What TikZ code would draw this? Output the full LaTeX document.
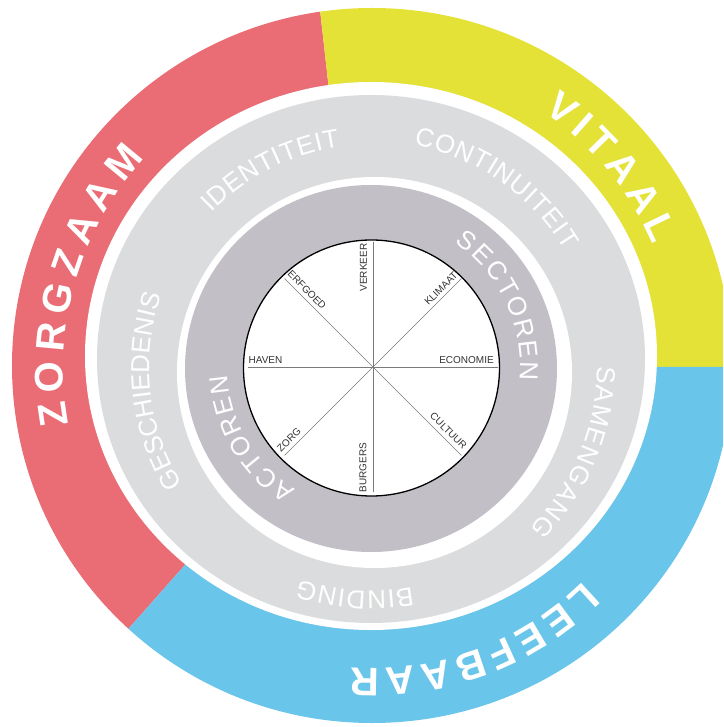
\documentclass[tikz,border=0pt]{standalone}
\usepackage{fontspec}
\setmainfont{Liberation Sans}
\usetikzlibrary{decorations.text,calc}
\definecolor{cred}{HTML}{EA6C74}
\definecolor{cyellow}{HTML}{E4E236}
\definecolor{cblue}{HTML}{6AC5EA}
\definecolor{clight}{HTML}{DBDCDD}
\definecolor{cdark}{HTML}{C3BFC7}
\definecolor{spokec}{HTML}{7A7A7A}
\definecolor{labelc}{HTML}{333333}
\newcommand\outerf{\fontsize{40}{40}\selectfont\bfseries\color{white}}
\newcommand\midf{\fontsize{26}{26}\selectfont\color{white}}
\newcommand\innerf{\fontsize{26}{26}\selectfont\color{white}}
% #1 font, #2 text, #3 baseline radius, #4 start angle, #5 end angle
\newcommand\ringtext[5]{%
  \path[decorate, decoration={text along path, text align=fit to path, text={|#1|#2}}]
    (#4:#3) arc[start angle=#4, end angle=#5, radius=#3];}
\tikzset{
  spokelabel/.style={font=\fontsize{10}{10}\selectfont, text=labelc, inner sep=0pt},
  spokeline/.style={draw=spokec, line width=0.6pt}
}
\begin{document}
\begin{tikzpicture}[x=1pt,y=1pt]
\useasboundingbox (-371,-360) rectangle (352,367);
\clip (-371,-360) rectangle (352,367);
% outer coloured ring
\begin{scope}
  \clip (1,1.5) ellipse[x radius=360, y radius=357.5];
  \fill[cred] (-11,0) -- (-53.2,377) -- (-420,377) -- (-420,-441) -- (-401,-441) -- cycle;
  \fill[cyellow] (-11,0) -- (-53.2,377) -- (420,377) -- (420,0) -- cycle;
  \fill[cblue] (-11,0) -- (420,0) -- (420,-460) -- (-401,-460) -- (-401,-441) -- cycle;
\end{scope}
\fill[white] (0,11) ellipse[x radius=286, y radius=274];
\fill[clight] (0,8) ellipse[x radius=274, y radius=264];
\fill[white] (3.5,-5.5) ellipse[x radius=197.5, y radius=195.5];
\fill[cdark] (0,-1.5) ellipse[x radius=186, y radius=183.5];
\node[circle, draw=black, line width=1.3pt, fill=white, minimum size=256pt, inner sep=0pt] (disc) at (0.5,-1) {};
% spokes
\coordinate (hub) at (2,0);
\foreach \a [count=\i] in {0,45,...,315}{
  \coordinate (s\i) at ($(hub)+(\a:125)$);
  \draw[spokeline] (hub) -- (s\i);
}
% spoke labels
\node[spokelabel, rotate=90] (verkeer) at (-7.5,99.5) {VERKEER};
\node[spokelabel, rotate=90] (burgers) at (-8,-100.5) {BURGERS};
\node[spokelabel] (haven) at (-105.5,7) {HAVEN};
\node[spokelabel] (economie) at (95.5,7) {ECONOMIE};
\node[spokelabel, rotate=-45] (erfgoed) at (-64,77) {ERFGOED};
\node[spokelabel, rotate=45] (klimaat) at (70,78.5) {KLIMAAT};
\node[spokelabel, rotate=45] (zorg) at (-82,-73) {ZORG};
\node[spokelabel, rotate=-45] (cultuur) at (77.5,-64) {CULTUUR};
% ring texts
\ringtext{\outerf}{ZORGZAAM}{307.7}{190.7}{137.3}
\ringtext{\outerf}{VITAAL}{307.7}{55.9}{23.5}
\ringtext{\outerf}{LEEFBAAR}{301.7}{-45.3}{-93.8}
\ringtext{\midf}{IDENTITEIT}{222}{136.0}{98.0}
\ringtext{\midf}{CONTINUITEIT}{226}{79.1}{31.0}
\ringtext{\midf}{GESCHIEDENIS}{221.5}{211.9}{162.1}
\ringtext{\midf}{SAMENGANG}{226}{0.2}{-45.4}
\ringtext{\midf}{BINDING}{224}{-79.4}{-108.7}
\ringtext{\innerf}{SECTOREN}{149.7}{56.0}{-5.0}
\ringtext{\innerf}{ACTOREN}{143.7}{238.2}{183.2}
\end{tikzpicture}
\end{document}
